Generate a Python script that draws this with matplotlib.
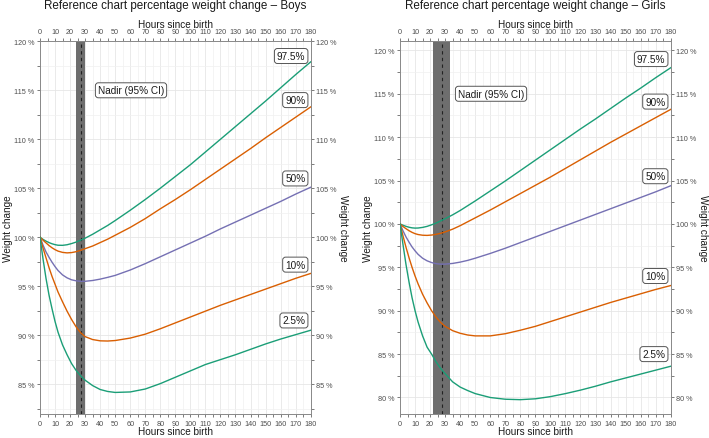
import matplotlib.pyplot as plt
from matplotlib.ticker import MultipleLocator, FuncFormatter

plt.rcParams['font.family'] = ['Liberation Sans', 'DejaVu Sans']

hours = [0, 2, 4, 6, 8, 10, 12, 15, 18, 21, 24, 27, 30, 35, 40, 45, 50,
         60, 70, 80, 90, 100, 110, 120, 130, 140, 150, 160, 170, 180]

# boys percentiles (% of birth weight)
boys_p975 = [100, 99.78, 99.6, 99.45, 99.33, 99.24, 99.18, 99.17, 99.23, 99.35, 99.5, 99.7, 99.9,
             100.3, 100.75, 101.2, 101.7, 102.75, 103.85, 105.0, 106.2, 107.4, 108.7, 110.0,
             111.3, 112.6, 113.9, 115.25, 116.6, 117.9]
boys_p90 = [100, 99.7, 99.42, 99.15, 98.92, 98.73, 98.58, 98.45, 98.4, 98.43, 98.52, 98.66, 98.83,
            99.1, 99.45, 99.8, 100.2, 101.0, 101.9, 102.9, 103.85, 104.85, 105.9, 106.95,
            108.0, 109.05, 110.15, 111.2, 112.25, 113.3]
boys_p50 = [100, 99.2, 98.5, 97.95, 97.45, 97.0, 96.6, 96.15, 95.85, 95.65, 95.55, 95.5, 95.5,
            95.58, 95.72, 95.9, 96.1, 96.65, 97.3, 98.0, 98.7, 99.4, 100.1, 100.85,
            101.55, 102.25, 102.95, 103.65, 104.4, 105.1]
boys_p10 = [100, 98.9, 97.9, 96.9, 96.0, 95.2, 94.4, 93.4, 92.45, 91.6, 90.85, 90.25, 89.85,
            89.55, 89.42, 89.4, 89.45, 89.7, 90.1, 90.65, 91.25, 91.85, 92.45, 93.05,
            93.6, 94.15, 94.7, 95.25, 95.8, 96.3]
boys_p025 = [100, 97.8, 95.8, 94.1, 92.7, 91.4, 90.3, 89.0, 88.0, 87.1, 86.4, 85.85, 85.4,
             84.85, 84.45, 84.25, 84.15, 84.2, 84.5, 85.05, 85.7, 86.35, 87.0, 87.5,
             88.0, 88.55, 89.1, 89.6, 90.05, 90.5]

# girls percentiles (% of birth weight)
girls_p975 = [100, 99.85, 99.72, 99.62, 99.55, 99.52, 99.53, 99.6, 99.72, 99.9, 100.1, 100.35, 100.6,
              101.05, 101.55, 102.1, 102.65, 103.8, 104.95, 106.15, 107.35, 108.55, 109.75, 110.95,
              112.1, 113.3, 114.5, 115.65, 116.85, 118.0]
girls_p90 = [100, 99.7, 99.45, 99.22, 99.03, 98.88, 98.78, 98.7, 98.68, 98.72, 98.8, 98.92, 99.08,
             99.4, 99.8, 100.25, 100.7, 101.6, 102.55, 103.5, 104.45, 105.4, 106.4, 107.4,
             108.4, 109.4, 110.35, 111.3, 112.25, 113.2]
girls_p50 = [100, 99.2, 98.5, 97.9, 97.35, 96.9, 96.5, 96.05, 95.75, 95.55, 95.42, 95.37, 95.37,
             95.45, 95.6, 95.8, 96.05, 96.6, 97.2, 97.85, 98.5, 99.15, 99.8, 100.45,
             101.1, 101.75, 102.4, 103.05, 103.7, 104.4]
girls_p10 = [100, 98.6, 97.3, 96.1, 95.0, 94.0, 93.1, 91.9, 90.9, 90.0, 89.25, 88.65, 88.2,
             87.7, 87.4, 87.2, 87.1, 87.1, 87.35, 87.75, 88.2, 88.75, 89.3, 89.85,
             90.4, 90.95, 91.45, 91.95, 92.45, 92.9]
girls_p025 = [100, 97.6, 95.3, 93.3, 91.5, 90.0, 88.7, 87.1, 85.8, 85.0, 84.1, 83.35, 82.75,
              81.8, 81.2, 80.8, 80.45, 80.0, 79.8, 79.75, 79.85, 80.1, 80.45, 80.85,
              81.3, 81.8, 82.25, 82.7, 83.15, 83.6]

centile_labels = ['97.5%', '90%', '50%', '10%', '2.5%']
boys_label_y = [118.5, 114.0, 106.0, 97.2, 91.5]
girls_label_y = [119.0, 114.1, 105.5, 94.0, 85.0]

# nadir: lower CI, upper CI, point estimate (hours)
boys_nadir = [24, 30, 27]
girls_nadir = [22.2, 33.3, 27.8]

line_colors = ['#1B9E77', '#D95F02', '#7570B3', '#D95F02', '#1B9E77']
grey_txt = '#4D4D4D'
dark_txt = '#1A1A1A'
pct = FuncFormatter(lambda v, p: f'{v:.0f} %')


def draw_panel(ax, curves, label_y, nadir, ylim, title):
    ax.set_xlim(0, 180)
    ax.set_ylim(*ylim)
    ax.axvspan(nadir[0], nadir[1], color='#6E6E6E', lw=0, zorder=2)
    ax.axvline(nadir[2], color='#222222', lw=0.8, ls=(0, (3, 3)), zorder=3)
    for vals, c in zip(curves, line_colors):
        ax.plot(hours, vals, color=c, lw=1.0, zorder=4)
    box = dict(boxstyle='round,pad=0.25,rounding_size=0.3', fc='white', ec='#555555', lw=0.7)
    for txt, y in zip(centile_labels, label_y):
        ax.text(176.5, y, txt, ha='right', va='center', fontsize=7.2, color=dark_txt, bbox=box, zorder=5)
    ax.text(38.5, 115, 'Nadir (95% CI)', ha='left', va='center', fontsize=7.2, color=dark_txt, bbox=box, zorder=5)

    ax.xaxis.set_major_locator(MultipleLocator(10))
    ax.xaxis.set_minor_locator(MultipleLocator(5))
    ax.yaxis.set_major_locator(MultipleLocator(5))
    ax.yaxis.set_minor_locator(MultipleLocator(2.5))
    ax.yaxis.set_major_formatter(pct)
    ax.grid(which='major', color='#E6E6E6', lw=0.6, zorder=0)
    ax.grid(which='minor', color='#F0F0F0', lw=0.5, zorder=0)
    ax.tick_params(which='both', direction='out', length=2.5, width=0.6, color='#666666',
                   labelsize=5.2, labelcolor=grey_txt, pad=1.5,
                   top=True, right=True, labeltop=True, labelright=True)
    for s in ax.spines.values():
        s.set_color('#888888')
        s.set_linewidth(0.7)
    ax.set_axisbelow(True)

    # axis titles on all four sides, placed in axes coordinates
    lab = dict(fontsize=7.2, color=dark_txt, transform=ax.transAxes, ha='center', va='center')
    ax.text(0.5, -0.046, 'Hours since birth', **lab)
    ax.text(0.5, 1.046, 'Hours since birth', **lab)
    ax.text(-0.118, 0.5, 'Weight change', rotation=90, **lab)
    ax.text(1.121, 0.5, 'Weight change', rotation=270, **lab)
    ax.text(0.5, 1.087, title, fontsize=8.4, color=dark_txt, transform=ax.transAxes,
            ha='center', va='baseline')


fig = plt.figure(figsize=(7.09, 4.39), dpi=100)
ax1 = fig.add_axes([0.0564, 0.0547, 0.3818, 0.850])
ax2 = fig.add_axes([0.5642, 0.0547, 0.3818, 0.850])

draw_panel(ax1, [boys_p975, boys_p90, boys_p50, boys_p10, boys_p025], boys_label_y,
           boys_nadir, (81.95, 120.05), 'Reference chart percentage weight change \u2013 Boys')
draw_panel(ax2, [girls_p975, girls_p90, girls_p50, girls_p10, girls_p025], girls_label_y,
           girls_nadir, (78.1, 121.1), 'Reference chart percentage weight change \u2013 Girls')

fig.savefig('out.png', dpi=100)
